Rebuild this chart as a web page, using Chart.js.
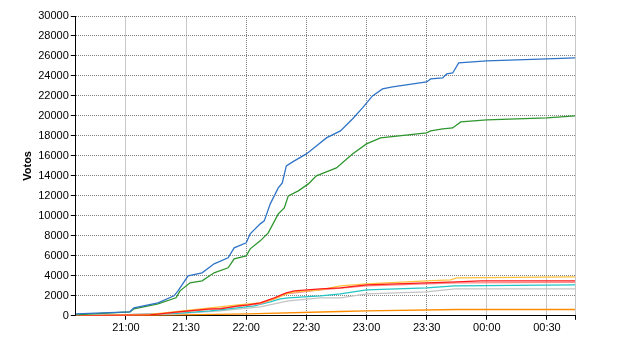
<!DOCTYPE html>
<html>
<head>
<meta charset="utf-8">
<script src="https://cdn.jsdelivr.net/npm/chart.js@4/dist/chart.umd.min.js"></script>
<style>
  body { margin: 0; background: #fff; }
</style>
</head>
<body>
<canvas id="chart" width="640" height="350"></canvas>
<script>
// axis ticks
const xTickLabels = ["21:00", "21:30", "22:00", "22:30", "23:00", "23:30", "00:00", "00:30"];
const xStart = "20:35";
const xEnd = "00:44";

// series (time, votes)
const blueTimes = ["20:35", "21:02", "21:04", "21:16", "21:24", "21:26", "21:28", "21:31", "21:38", "21:44", "21:51", "21:54", "22:00", "22:02", "22:07", "22:09", "22:12", "22:16", "22:18", "22:20", "22:24", "22:30", "22:35", "22:40", "22:47", "22:53", "22:58", "23:03", "23:08", "23:13", "23:30", "23:32", "23:38", "23:40", "23:43", "23:46", "00:00", "00:30", "00:44"];
const blueVotes = [200, 400, 800, 1300, 2000, 2500, 3100, 4000, 4300, 5200, 5800, 6800, 7300, 8200, 9200, 9500, 11200, 12800, 13300, 15000, 15500, 16200, 17000, 17800, 18500, 19700, 20800, 22000, 22700, 22900, 23400, 23700, 23800, 24200, 24300, 25300, 25500, 25700, 25800];

const greenTimes = ["20:35", "21:02", "21:04", "21:16", "21:25", "21:27", "21:32", "21:38", "21:44", "21:51", "21:54", "22:00", "22:02", "22:07", "22:11", "22:16", "22:19", "22:21", "22:26", "22:31", "22:35", "22:45", "22:53", "23:00", "23:07", "23:30", "23:32", "23:38", "23:43", "23:47", "00:00", "00:30", "00:44"];
const greenVotes = [100, 400, 700, 1200, 1800, 2500, 3300, 3500, 4300, 4800, 5700, 6000, 6700, 7500, 8300, 10200, 10800, 12000, 12500, 13200, 14000, 14800, 16200, 17200, 17800, 18300, 18500, 18700, 18800, 19400, 19600, 19800, 20000];

const redTimes = ["20:35", "21:12", "21:17", "21:26", "21:42", "21:47", "21:56", "22:01", "22:07", "22:14", "22:20", "22:24", "22:37", "22:47", "23:00", "23:30", "23:45", "23:57", "00:44"];
const redVotes = [0, 100, 200, 400, 700, 700, 1000, 1100, 1300, 1800, 2300, 2500, 2700, 2800, 3100, 3300, 3400, 3500, 3500];

const yellowTimes = ["20:35", "21:12", "21:26", "21:42", "21:56", "22:07", "22:14", "22:20", "22:24", "22:37", "22:47", "23:00", "23:30", "23:42", "23:45", "00:44"];
const yellowVotes = [0, 150, 450, 800, 1100, 1300, 1700, 2200, 2400, 2600, 3000, 3200, 3500, 3600, 3800, 3900];

const pinkTimes = ["20:35", "21:17", "21:42", "22:07", "22:14", "22:20", "22:37", "23:00", "23:30", "23:45", "00:44"];
const pinkVotes = [0, 200, 650, 1200, 1700, 2200, 2600, 3000, 3200, 3300, 3350];

const cyanTimes = ["20:35", "21:25", "21:42", "21:47", "22:04", "22:12", "22:17", "22:21", "22:37", "22:47", "23:00", "23:30", "23:44", "00:44"];
const cyanVotes = [0, 250, 500, 600, 1000, 1400, 1700, 1800, 2000, 2200, 2600, 2800, 3000, 3100];

const grayTimes = ["20:35", "21:25", "21:47", "22:07", "22:21", "22:37", "22:47", "23:00", "23:30", "23:44", "00:44"];
const grayVotes = [0, 200, 500, 900, 1500, 1800, 1800, 2200, 2400, 2700, 2700];

const orangeTimes = ["20:35", "21:12", "22:01", "22:47", "23:00", "23:45", "00:44"];
const orangeVotes = [0, 50, 200, 430, 500, 630, 630];

// minutes since 20:00, times after midnight roll over
function toMin(t) {
    let [h, m] = t.split(":").map(Number)
    if (h < 12) h += 24
    return (h - 20) * 60 + m
}
function fmt(v) {
    let h = (20 + Math.floor(v / 60)) % 24
    let m = v % 60
    return String(h).padStart(2, "0") + ":" + String(m).padStart(2, "0")
}
function points(times, votes) {
    return times.map((t, i) => ({x: toMin(t), y: votes[i]}))
}
function series(label, times, votes, color) {
    return {
        label: label,
        data: points(times, votes),
        borderColor: color,
        backgroundColor: color,
        borderWidth: 1.3,
        pointRadius: 0,
        fill: false,
        tension: 0
    }
}

const xMin = toMin(xStart);
const xMax = toMin(xEnd);
const xTicks = xTickLabels.map(toMin);
const solidX = ["21:00", "21:30", "00:00", "00:30"].map(toMin);

const font = {family: "'Liberation Sans', Arial, sans-serif", size: 11};

let ctx = document.getElementById('chart').getContext('2d');
let myChart = new Chart(ctx, {
    type: 'line',
    data: {
        datasets: [
            series('blue', blueTimes, blueVotes, '#2f74c6'),
            series('green', greenTimes, greenVotes, '#2e962e'),
            series('red', redTimes, redVotes, '#ff1a1a'),
            series('yellow', yellowTimes, yellowVotes, '#ffc23a'),
            series('pink', pinkTimes, pinkVotes, '#ff8a8a'),
            series('cyan', cyanTimes, cyanVotes, '#22c4c4'),
            series('gray', grayTimes, grayVotes, '#c4c4c4'),
            series('orange', orangeTimes, orangeVotes, '#ff8c00')
        ]
    },
    options: {
        responsive: false,
        animation: false,
        layout: {padding: {left: 21, right: 65, top: 16, bottom: 13}},
        plugins: {legend: {display: false}, tooltip: {enabled: false}},
        scales: {
            x: {
                type: 'linear',
                min: xMin,
                max: xMax,
                afterBuildTicks: function (scale) {
                    scale.ticks = xTicks.concat([xMax]).map(v => ({value: v}))
                },
                ticks: {
                    color: '#000',
                    font: font,
                    padding: 2,
                    maxRotation: 0,
                    autoSkip: false,
                    callback: function (v) { return v === xMax ? '' : fmt(v) }
                },
                grid: {
                    color: function (c) {
                        let v = c.tick ? c.tick.value : null
                        return (solidX.includes(v) || v === xMax) ? '#c8c8c8' : '#808080'
                    },
                    tickColor: '#000',
                    tickLength: 4,
                    lineWidth: 1
                },
                border: {
                    color: '#000',
                    width: 1,
                    dash: function (c) {
                        let v = c.tick ? c.tick.value : null
                        return (solidX.includes(v) || v === xMax) ? [] : [1, 1]
                    }
                }
            },
            y: {
                min: 0,
                max: 30000,
                ticks: {
                    stepSize: 2000,
                    color: '#000',
                    font: font,
                    padding: 2,
                    callback: function (v) { return String(v) }
                },
                grid: {
                    color: '#808080',
                    tickColor: '#000',
                    tickLength: 5,
                    lineWidth: 1
                },
                border: {color: '#000', width: 1, dash: [1, 1]},
                title: {
                    display: true,
                    text: 'Votos',
                    color: '#000',
                    font: {family: "'Liberation Sans', Arial, sans-serif", size: 11, weight: 'bold'},
                    padding: {top: 0, bottom: 2}
                }
            }
        }
    }
})
</script>
</body>
</html>
